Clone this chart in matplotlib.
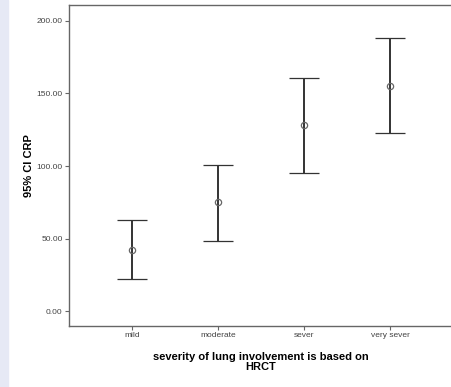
import matplotlib
matplotlib.use("Agg")
import numpy as np
import matplotlib.pyplot as plt
import matplotlib.patches as mpatches

plt.rcParams["font.family"] = ["Liberation Sans", "DejaVu Sans"]

# Data (95% CI of CRP per HRCT severity group)
categories = ["mild", "moderate", "sever", "very sever"]
crp_mean = [42.0, 75.0, 128.0, 155.5]
ci_low = [22.0, 48.5, 95.5, 123.0]
ci_high = [62.5, 101.0, 160.5, 188.5]
y_ticks = [0, 50, 100, 150, 200]

DARK = "#333333"
SPINE = "#666666"
STRIP = "#E6E9F5"

fig = plt.figure(figsize=(4.51, 3.87), dpi=100)
fig.patches.append(mpatches.Rectangle((0, 0), 8 / 451, 1, transform=fig.transFigure,
                                      color=STRIP, zorder=0))

ax = fig.add_axes([69 / 451, 61 / 387, 384 / 451, 321 / 387])

x = np.arange(len(categories))
mean = np.array(crp_mean)
yerr = [mean - np.array(ci_low), np.array(ci_high) - mean]
ax.errorbar(x, mean, yerr=yerr, fmt="o", ms=4.5, mfc="none", mec="#666666", mew=0.9,
            ecolor=DARK, elinewidth=1.4, capsize=10.5, capthick=2.0)

ax.set_xlim(-0.73, 3.73)
ax.set_ylim(-10.3, 211)
ax.set_xticks(x)
ax.set_xticklabels(categories)
ax.set_yticks(y_ticks)
ax.set_yticklabels([f"{v:.2f}" for v in y_ticks])
ax.tick_params(axis="both", labelsize=6, colors=SPINE, labelcolor="#444444",
               length=3, width=0.8, direction="out", pad=1.5)

for s in ax.spines.values():
    s.set_color(SPINE)
    s.set_linewidth(1.0)
ax.spines["right"].set_visible(False)

ax.set_xlabel("severity of lung involvement is based on\nHRCT", fontsize=8,
              fontweight="bold", color="black", labelpad=9, linespacing=1.0)
ax.set_ylabel("95% CI CRP", fontsize=8, fontweight="bold", color="black", labelpad=2)

fig.savefig("out.png", dpi=100, facecolor="white")
